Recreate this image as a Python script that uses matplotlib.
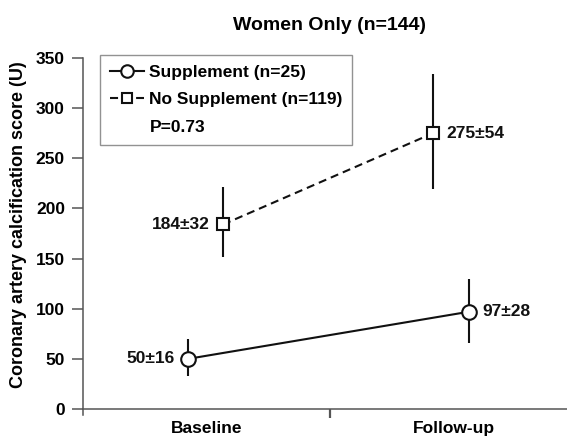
import matplotlib
matplotlib.use("Agg")
import matplotlib.pyplot as plt
from matplotlib.lines import Line2D
import numpy as np

# ---- data ----
categories = ["Baseline", "Follow-up"]
sup_mean = [50, 97]
sup_se = [16, 28]
sup_low = [33, 66]      # lower end of drawn error bar
sup_high = [70, 130]    # upper end of drawn error bar
nosup_mean = [184, 275]
nosup_se = [32, 54]
nosup_low = [152, 219]
nosup_high = [221, 334]
yticks = [0, 50, 100, 150, 200, 250, 300, 350]
title = "Women Only (n=144)"
ylabel = "Coronary artery calcification score (U)"
legend_labels = ["Supplement (n=25)", "No Supplement (n=119)", "P=0.73"]

# ---- style / positions ----
plt.rcParams['font.family'] = ['Liberation Sans', 'DejaVu Sans']
plt.rcParams['font.weight'] = 'bold'
plt.rcParams['lines.scale_dashes'] = False
FS = 12.5
INK = '#111111'
SPINE = '#555555'
DASH = (5.8, 3.6)

cat_x = np.array([0.5, 1.5])
sup_x = cat_x + np.array([-0.075, 0.063])
nosup_x = cat_x + np.array([0.067, -0.083])

fig = plt.figure(figsize=(5.67, 4.36), dpi=100)
ax = fig.add_axes([83/567, 27/436, 494/567, 351/436])

def draw(xs, mean, low, high, marker, ms, ls, dashes=None):
    mean = np.array(mean, float)
    yerr = [mean - np.array(low), np.array(high) - mean]
    ax.errorbar(xs, mean, yerr=yerr, fmt='none', ecolor=INK, elinewidth=1.5,
                capsize=0, zorder=2)
    kw = dict(color=INK, lw=1.5, ls=ls, zorder=3)
    line, = ax.plot(xs, mean, **kw)
    if dashes is not None:
        line.set_dashes(dashes)
    ax.plot(xs, mean, ls='none', marker=marker, ms=ms, mfc='white', mec=INK,
            mew=1.5, zorder=4)

draw(sup_x, sup_mean, sup_low, sup_high, 'o', 10.5, '-')
draw(nosup_x, nosup_mean, nosup_low, nosup_high, 's', 8.5, '--', DASH)

# value annotations
def annot(x, m, s, side):
    off = -13 if side == 'left' else 13
    ha = 'right' if side == 'left' else 'left'
    ax.annotate(f"{m}\u00b1{s}", xy=(x, m), xytext=(off, 0),
                textcoords='offset pixels', ha=ha, va='center',
                fontsize=FS, fontweight='bold', color=INK)

annot(sup_x[0], sup_mean[0], sup_se[0], 'left')
annot(sup_x[1], sup_mean[1], sup_se[1], 'right')
annot(nosup_x[0], nosup_mean[0], nosup_se[0], 'left')
annot(nosup_x[1], nosup_mean[1], nosup_se[1], 'right')

# axes
ax.set_xlim(0, 2)
ax.set_ylim(0, 350)
ax.spines['top'].set_visible(False)
ax.spines['right'].set_visible(False)
for s in ['left', 'bottom']:
    ax.spines[s].set_color(SPINE)
    ax.spines[s].set_linewidth(1.1)
ax.spines['left'].set_bounds(-6, 350)
ax.set_yticks(yticks)
ax.set_yticklabels([str(t) for t in yticks], fontsize=FS, fontweight='bold')
ax.tick_params(axis='y', direction='out', length=8, width=1.1, color=SPINE,
               pad=5)
ax.set_xticks(cat_x)
ax.set_xticklabels(categories, fontsize=FS, fontweight='bold')
ax.tick_params(axis='x', which='major', length=0, pad=8.5)
ax.set_xticks([1.0], minor=True)
ax.tick_params(axis='x', which='minor', direction='out', length=6.5,
               width=1.6, color=SPINE)

ax.set_title(title, fontsize=14, fontweight='bold', pad=20)
ax.set_ylabel(ylabel, fontsize=13, fontweight='bold')
ax.yaxis.set_label_coords(-0.113, 0.524)

# legend
h1 = Line2D([], [], color=INK, lw=1.5, marker='o', ms=9, mfc='white',
            mec=INK, mew=1.5)
h2 = Line2D([], [], color=INK, lw=1.5, ls='--', marker='s', ms=7.5,
            mfc='white', mec=INK, mew=1.5)
h2.set_dashes(DASH)
h3 = Line2D([], [], ls='none', marker=None)
leg = ax.legend([h1, h2, h3], legend_labels, loc='upper left',
                bbox_to_anchor=(100/567, 1 - 55/436),
                bbox_transform=fig.transFigure, frameon=True, fancybox=False,
                fontsize=FS, handlelength=2.0, handletextpad=0.3,
                borderpad=0.55, labelspacing=0.72, borderaxespad=0)
leg.get_frame().set_edgecolor('#777777')
leg.get_frame().set_linewidth(1.0)
for t in leg.get_texts():
    t.set_fontweight('bold')

fig.savefig('out.png', dpi=100)
